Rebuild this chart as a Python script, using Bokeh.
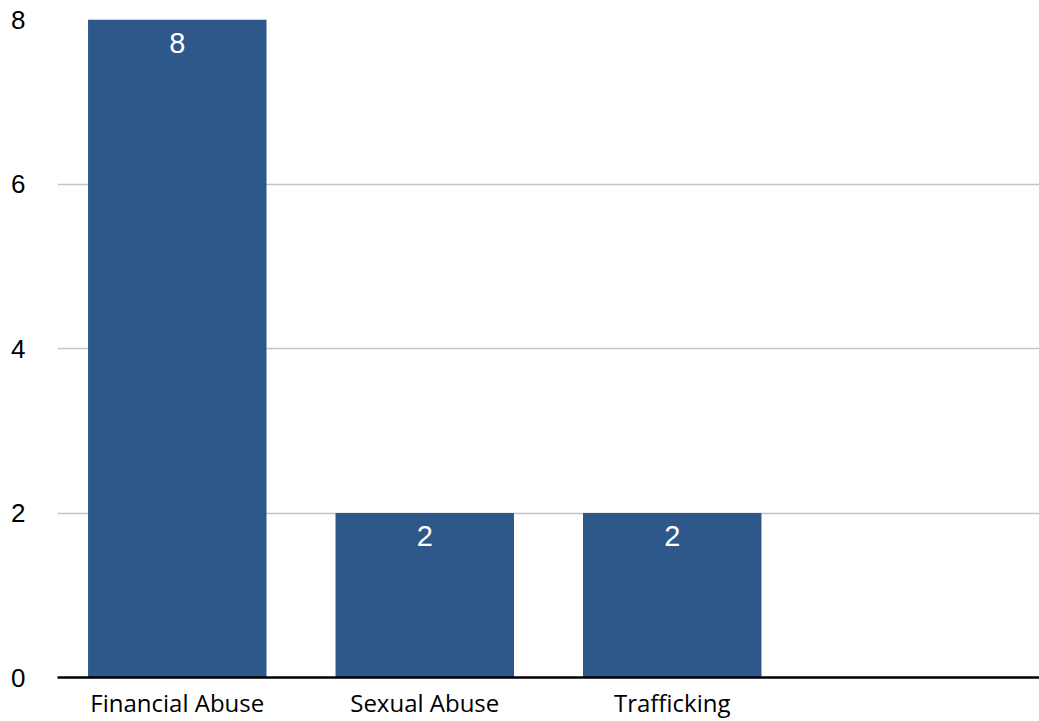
from bokeh.plotting import figure
from bokeh.models import ColumnDataSource, FactorRange, Range1d, FixedTicker
from bokeh.core.properties import value
from bokeh.embed import file_html
from bokeh.resources import INLINE

categories = ["Financial Abuse", "Sexual Abuse", "Trafficking"]
slots = categories + [" "]
counts = [8, 2, 2]
y_ticks = [0, 2, 4, 6, 8]

src = ColumnDataSource(dict(cat=categories, val=counts, lab=[str(v) for v in counts]))

p = figure(width=1039, height=721, x_range=FactorRange(*slots, factor_padding=0.033),
           y_range=Range1d(0, 8),
           output_backend="svg", toolbar_location=None,
           min_border_left=57, min_border_right=0, min_border_top=19, min_border_bottom=44)
p.outline_line_color = None
p.background_fill_color = "white"
p.border_fill_color = "white"

p.vbar(x="cat", top="val", width=0.745, source=src, fill_color="#2E5889", line_color=None)
p.text(x="cat", y="val", text="lab", source=src, text_color="white",
       text_font=value("Liberation Sans"), text_font_size="29px",
       text_align="center", text_baseline="top", y_offset=13)

p.xgrid.grid_line_color = None
p.ygrid.grid_line_color = "#c4c4c4"
p.ygrid.grid_line_width = 1.5
p.yaxis.ticker = FixedTicker(ticks=y_ticks)
p.yaxis.axis_line_color = None
p.yaxis.major_tick_line_color = None
p.yaxis.major_tick_out = 0
p.yaxis.major_tick_in = 0
p.yaxis.minor_tick_line_color = None
p.yaxis.major_label_text_font = "Liberation Sans"
p.yaxis.major_label_text_font_size = "26px"
p.yaxis.major_label_text_color = "black"
p.yaxis.major_label_standoff = 32

p.xaxis.axis_line_color = "black"
p.xaxis.axis_line_width = 2.5
p.xaxis.major_tick_line_color = None
p.xaxis.major_tick_out = 0
p.xaxis.major_tick_in = 0
p.xaxis.minor_tick_line_color = None
p.xaxis.major_label_text_font = "Open Sans"
p.xaxis.major_label_text_font_size = "24px"
p.xaxis.major_label_text_color = "black"
p.xaxis.major_label_standoff = 8

open("out.html", "w").write(file_html(p, INLINE))
